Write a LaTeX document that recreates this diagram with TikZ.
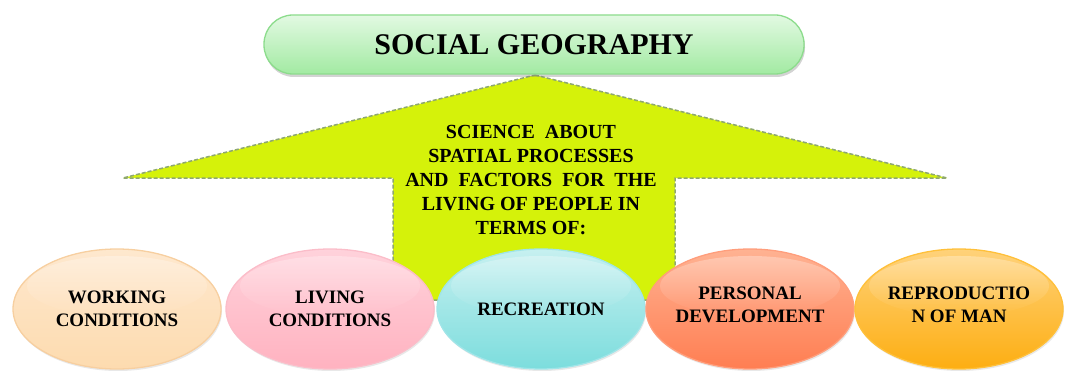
\documentclass[tikz,border=0pt]{standalone}
\usepackage{fontspec}
\setmainfont{Liberation Serif}
\usetikzlibrary{shapes.geometric,shadows,fadings}

\definecolor{arrowfill}{HTML}{D5F20A}
\definecolor{arrowedge}{HTML}{8FA870}
\definecolor{titletop}{HTML}{E2F9E2}
\definecolor{titlebot}{HTML}{A2EAA2}
\definecolor{titleedge}{HTML}{8CDC8C}
\definecolor{worktop}{HTML}{FEE8CE}
\definecolor{workbot}{HTML}{FDDBAF}
\definecolor{workedge}{HTML}{F7CFA0}
\definecolor{livetop}{HTML}{FFD2DB}
\definecolor{livebot}{HTML}{FFB2C0}
\definecolor{liveedge}{HTML}{FBBDC9}
\definecolor{recrtop}{HTML}{C6F0F0}
\definecolor{recrbot}{HTML}{7CDDDD}
\definecolor{recredge}{HTML}{A0E5E8}
\definecolor{perstop}{HTML}{FFB292}
\definecolor{persbot}{HTML}{FF7E52}
\definecolor{persedge}{HTML}{FF9E7C}
\definecolor{reprtop}{HTML}{FFD27A}
\definecolor{reprbot}{HTML}{FDAE12}
\definecolor{repredge}{HTML}{FFC03A}

\tikzset{
  bubble/.style={ellipse, minimum width=208pt, minimum height=120pt,
    inner sep=0pt, line width=1.3pt,
    drop shadow={opacity=0.18, shadow xshift=1pt, shadow yshift=-2pt}},
  glossy/.style={top color=#1top, bottom color=#1bot, draw=#1edge},
  sheen/.style={white, opacity=0.3, path fading=south},
  label/.style={font=\fontsize{19}{22.5}\selectfont\bfseries, align=center},
}

\begin{document}
\begin{tikzpicture}[x=1pt,y=1pt]
\useasboundingbox (0,0) rectangle (1065,370);

% big upward arrow
\draw[fill=arrowfill, draw=arrowedge, dash pattern=on 4pt off 2pt, line width=1.5pt]
  (535,295) -- (947,192) -- (675,192) -- (675,70) -- (393,70)
  -- (393,192) -- (123,192) -- cycle;

\node[align=center, font=\fontsize{20}{24}\selectfont\bfseries] (desc) at (531,190)
  {SCIENCE\ \ ABOUT\\SPATIAL PROCESSES\\AND\ \ FACTORS\ \ FOR\ \ THE\\LIVING OF PEOPLE IN\\TERMS OF:};

% title bar
\node[rounded corners=29pt, minimum width=540pt, minimum height=59pt,
      top color=titletop, bottom color=titlebot, draw=titleedge, line width=1.3pt,
      drop shadow={opacity=0.35, shadow xshift=1pt, shadow yshift=-3pt},
      font=\fontsize{30}{34}\selectfont\bfseries] (title) at (534,325.5)
  {SOCIAL GEOGRAPHY};

% bottom row of topics
\foreach \nm/\cx in {work/117, live/330, recr/541, pers/750, repr/959}{
  \node[bubble, glossy=\nm] (\nm) at (\cx,61) {};
  \fill[sheen] (\cx,84) ellipse [x radius=90pt, y radius=30pt];
}
\node[label] (worktext) at (work) {WORKING\\CONDITIONS};
\node[label] (livetext) at (live) {LIVING\\CONDITIONS};
\node[label] (recrtext) at (recr) {RECREATION};
\node[label] (perstext) at ([yshift=4pt]pers.center) {PERSONAL\\DEVELOPMENT};
\node[label] (reprtext) at ([yshift=4pt]repr.center) {REPRODUCTIO\\N OF MAN};
\end{tikzpicture}
\end{document}
